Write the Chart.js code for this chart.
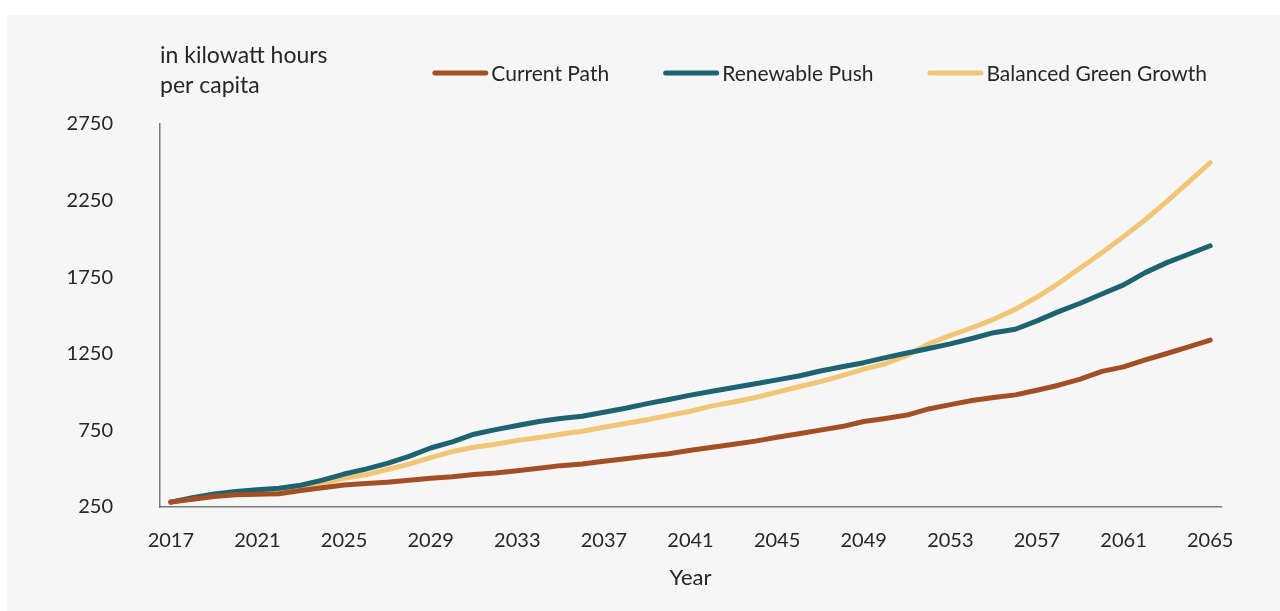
<!DOCTYPE html>
<html>
<head>
<meta charset="utf-8">
<script src="https://cdn.jsdelivr.net/npm/chart.js@4.4.1/dist/chart.umd.min.js"></script>
<style>
  html, body { margin: 0; padding: 0; background: #ffffff; }
  #panel { position: absolute; left: 7px; top: 15px; width: 1273px; height: 596px; background: #f6f6f6; }
</style>
</head>
<body>
<div id="panel"><canvas id="chart" width="1273" height="596"></canvas></div>
<script>
const years = [];
for (let y = 2017; y <= 2065; y++) years.push(String(y));

const currentPath = [
  282, 300, 318, 330, 333, 337, 358, 375, 394, 403,
  412, 424, 437, 447, 462, 472, 487, 503, 520, 530,
  548, 565, 582, 598, 620, 640, 660, 680, 705, 728,
  752, 775, 808, 828, 850, 890, 918, 945, 965, 982,
  1012, 1045, 1085, 1135, 1165, 1210, 1252, 1295, 1340
];
const renewablePush = [
  282, 310, 335, 352, 362, 373, 392, 425, 465, 497,
  535, 580, 635, 675, 725, 755, 782, 808, 828, 842,
  868, 895, 925, 952, 980, 1005, 1030, 1055, 1080, 1105,
  1138, 1165, 1192, 1225, 1255, 1285, 1315, 1350, 1388, 1410,
  1465, 1525, 1580, 1640, 1700, 1780, 1845, 1900, 1955
];
const balancedGreen = [
  282, 305, 328, 342, 350, 357, 378, 405, 437, 460,
  495, 530, 572, 612, 640, 660, 685, 703, 725, 745,
  770, 795, 820, 848, 875, 910, 935, 965, 1000, 1035,
  1068, 1108, 1150, 1185, 1240, 1315, 1370, 1420, 1475, 1540,
  1620, 1710, 1810, 1910, 2015, 2125, 2245, 2370, 2497
];
const yTicks = [250, 750, 1250, 1750, 2250, 2750];

const seriesNames = ["Current Path", "Renewable Push", "Balanced Green Growth"];
const seriesColors = ["#a34f25", "#1d6371", "#f1c676"];

const FONT = "Lato, 'Open Sans', sans-serif";
const TEXT = "#262626";

function lineSet(label, data, color) {
  return {
    label: label,
    data: data,
    borderColor: color,
    backgroundColor: color,
    borderWidth: 5,
    borderCapStyle: "round",
    borderJoinStyle: "round",
    pointRadius: 0,
    tension: 0,
  };
}

// unit caption above the y axis
const unitCaption = {
  id: "unitCaption",
  afterDraw(chart) {
    const ctx = chart.ctx;
    ctx.save();
    ctx.font = "23px " + FONT;
    ctx.fillStyle = TEXT;
    ctx.textAlign = "left";
    ctx.textBaseline = "alphabetic";
    const x = chart.chartArea.left;
    ctx.fillText("in kilowatt hours", x, 48);
    ctx.fillText("per capita", x, 78);
    ctx.restore();
  },
};

// legend row: short rounded line, then label, right-aligned
const lineLegend = {
  id: "lineLegend",
  afterDraw(chart) {
    const ctx = chart.ctx;
    const swatch = 56, gap = 3, spacing = 54, cy = 58;
    ctx.save();
    ctx.font = "21px " + FONT;
    const sets = chart.data.datasets;
    const widths = sets.map(ds => ctx.measureText(ds.label).width);
    let total = 0;
    widths.forEach((w, i) => { total += swatch + gap + w + (i < sets.length - 1 ? spacing : 0); });
    let x = chart.chartArea.right - 14 - total;
    sets.forEach((ds, i) => {
      ctx.strokeStyle = ds.borderColor;
      ctx.lineWidth = 5;
      ctx.lineCap = "round";
      ctx.beginPath();
      ctx.moveTo(x + 2.5, cy);
      ctx.lineTo(x + swatch - 2.5, cy);
      ctx.stroke();
      ctx.fillStyle = TEXT;
      ctx.textAlign = "left";
      ctx.textBaseline = "middle";
      ctx.fillText(ds.label, x + swatch + gap, cy + 1);
      x += swatch + gap + widths[i] + spacing;
    });
    ctx.restore();
  },
};

const config = {
  type: "line",
  data: {
    labels: years,
    datasets: [
      lineSet(seriesNames[0], currentPath, seriesColors[0]),
      lineSet(seriesNames[1], renewablePush, seriesColors[1]),
      lineSet(seriesNames[2], balancedGreen, seriesColors[2]),
    ],
  },
  options: {
    responsive: false,
    animation: false,
    layout: { padding: { top: 109, right: 59, left: 0, bottom: 0 } },
    plugins: {
      legend: { display: false },
      tooltip: { enabled: false },
    },
    scales: {
      x: {
        type: "category",
        offset: true,
        grid: { display: false, drawTicks: false },
        border: { display: true, color: "#7a7a7a", width: 1.5 },
        ticks: {
          autoSkip: false,
          maxRotation: 0,
          padding: 22,
          color: TEXT,
          font: { family: FONT, size: 20 },
          callback: function (value, index) {
            return index % 4 === 0 ? this.getLabelForValue(value) : "";
          },
        },
        title: {
          display: true,
          text: "Year",
          color: TEXT,
          font: { family: FONT, size: 22 },
          padding: { top: 0, bottom: 20 },
        },
        afterFit(scale) { scale.height = 104; },
      },
      y: {
        min: 250,
        max: 2750,
        grid: { display: false, drawTicks: false },
        border: { display: true, color: "#7a7a7a", width: 1.5 },
        afterBuildTicks(scale) { scale.ticks = yTicks.map(v => ({ value: v })); },
        ticks: {
          padding: 47,
          color: TEXT,
          font: { family: FONT, size: 20 },
          callback: (value) => String(value),
        },
        afterFit(scale) { scale.width = 153; },
      },
    },
  },
  plugins: [unitCaption, lineLegend],
};

const myChart = new Chart(document.getElementById("chart"), config);
</script>
</body>
</html>
